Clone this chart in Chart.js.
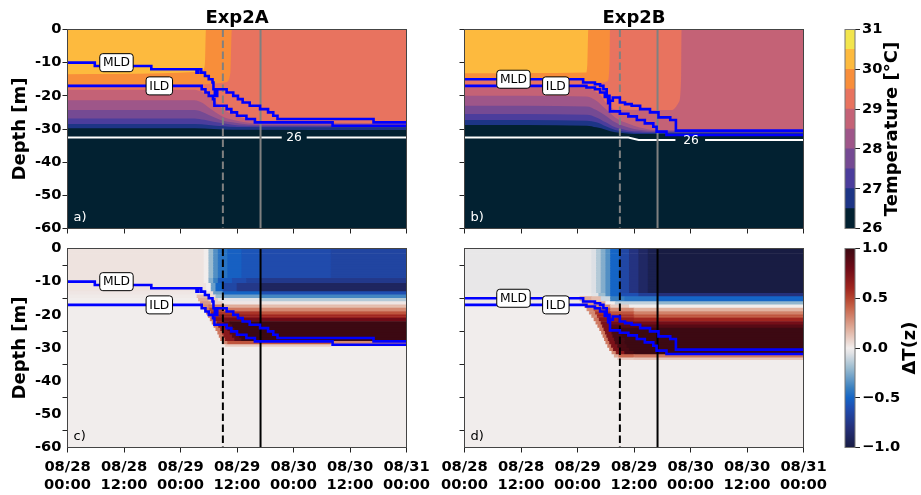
<!DOCTYPE html>
<html>
<head>
<meta charset="utf-8">
<title>Exp2A / Exp2B</title>
<script src="https://cdn.jsdelivr.net/npm/chart.js@4.4.1/dist/chart.umd.min.js"></script>
<style>
  html, body { margin: 0; background: #fff; }
  #page { position: relative; width: 921px; height: 495px; overflow: hidden; }
  #page canvas { position: absolute; left: 0; top: 0; }
</style>
</head>
<body>
<div id="page">
  <canvas id="panelA" width="921" height="495"></canvas>
  <canvas id="panelB" width="921" height="495"></canvas>
  <canvas id="panelC" width="921" height="495"></canvas>
  <canvas id="panelD" width="921" height="495"></canvas>
  <canvas id="barTemp" width="921" height="495"></canvas>
  <canvas id="barDelta" width="921" height="495"></canvas>
</div>
<script>
// time axis: hours since 08/28 00:00
const tickHours = [0, 12, 24, 36, 48, 60, 72];
const tickDates = ['08/28', '08/28', '08/29', '08/29', '08/30', '08/30', '08/31'];
const tickClock = ['00:00', '12:00', '00:00', '12:00', '00:00', '12:00', '00:00'];

// storm markers (hours)
const dashHour = 33;
const solidHour = 41;

// temperature contour levels
const tempLevels = [26, 26.5, 27, 27.5, 28, 28.5, 29, 29.5, 30, 30.5, 31];
const tempColors = ['#022131', '#1d3586', '#4b3d9c', '#754a93', '#9e5689',
                    '#c46276', '#e8735f', '#f88e3a', '#fdba3e', '#f2e54d'];
const deltaRange = [-1, 1];

// Exp2A isotherm depths, [hour, depth m]
const a265 = [[0, 29.8], [27, 29.8], [31, 30], [35, 30.2], [72, 30.3]];
const a270 = [[0, 28.5], [27, 28.5], [30, 28.8], [33, 29.2], [36, 29.4], [72, 29.5]];
const a275 = [[0, 26.8], [27, 26.8], [29, 27.2], [31, 27.8], [33, 28.3], [35, 28.7], [38, 29], [72, 29.1]];
const a280 = [[0, 24.3], [27, 24.3], [28.5, 24.8], [30, 25.8], [31.5, 26.7], [33, 27.5], [35, 28], [37, 28.4], [40, 28.7], [72, 28.8]];
const a285 = [[0, 21.3], [27, 21.3], [28.5, 22], [30, 23.5], [31.5, 25], [33, 26.3], [35, 27.2], [37, 27.8], [40, 28.3], [72, 28.4]];
const a290 = [[0, 18.2], [27, 18.2], [28.5, 18.8], [30, 19.8], [31, 21], [32, 22.5], [33, 24], [35, 25.5], [37, 26.5], [40, 27.5], [43, 28], [72, 28.2]];
const a295 = [[0, 16.6], [27, 16.6], [29, 16.5], [32, 16.2], [33.8, 15.8], [34.6, 13], [34.9, 0], [72, 0]];
const a300 = [[0, 13.5], [20, 13.2], [27, 12.8], [28.8, 12.2], [29.2, 10], [29.4, 0], [72, 0]];
const a260 = [[0, 32.6], [45.5, 32.6], [48, null], [50.8, 32.6], [72, 32.6]];

// Exp2B isotherm depths
const b265 = [[0, 28.8], [26, 29], [28, 29.5], [30, 30.2], [32, 31], [34, 31.3], [36, 31.5], [72, 31.5]];
const b270 = [[0, 27.3], [26, 27.5], [28, 28], [30, 29.2], [32, 30.3], [34, 30.8], [36, 31.1], [40, 31.2], [72, 31.2]];
const b275 = [[0, 25.5], [26, 25.7], [28, 26.5], [30, 28], [32, 29.5], [34, 30.2], [36, 30.7], [40, 30.9], [72, 30.9]];
const b280 = [[0, 23], [26, 23.2], [28, 24.3], [30, 26], [32, 28], [34, 29.2], [36, 30], [38, 30.4], [40, 30.6], [72, 30.6]];
const b285 = [[0, 20], [26, 20.2], [28, 21.5], [30, 24], [32, 26.5], [34, 28], [36, 29], [38, 29.8], [40, 30.3], [72, 30.3]];
const b290 = [[0, 17.2], [26, 17.5], [27.5, 18.5], [29, 20], [30, 22], [31, 23.5], [33, 24.2], [44, 24.3], [45.5, 22], [46, 15], [46.1, 0], [72, 0]];
const b295 = [[0, 15.3], [26, 15.5], [29, 16], [30.4, 15.5], [30.8, 10], [30.9, 0], [72, 0]];
const b300 = [[0, 13.2], [25.8, 13], [26.1, 10], [26.3, 0], [72, 0]];
const b260 = [[0, 32.6], [34.8, 32.6], [37, 33.3], [44.8, 33.3], [48, null], [51.1, 33.3], [72, 33.3]];

// mixed layer and isothermal layer depths (step from each hour on)
const mldA = [[0, 10], [5.8, 11], [17.8, 12], [27.4, 13], [27.8, 12], [28.4, 13], [29.2, 14], [30, 15], [30.8, 16], [31, 18], [31.3, 20], [31.8, 18], [33.8, 19], [35.2, 20], [36.2, 21], [37.2, 22], [38.7, 23], [40.9, 24], [42.6, 25], [43.7, 26], [44.6, 27], [65, 28], [72, 28]];
const ildA = [[0, 17], [28.5, 18], [29.3, 19], [30, 20], [30.9, 21], [31.2, 23], [33.8, 24], [34.8, 25], [36, 26], [38, 27], [39.8, 28], [56.3, 29], [72, 29]];
const mldB = [[0, 15], [25.2, 16], [27.7, 16.5], [28.8, 17], [29.5, 18], [30.2, 20], [30.8, 21.5], [31.5, 20.5], [33, 22], [34.1, 22.5], [35.5, 23], [37.3, 24], [39.4, 25], [41.2, 26.5], [43.7, 27.3], [44.9, 30.5], [72, 30.5]];
const ildB = [[0, 17], [25.9, 17.5], [27.7, 18], [28.8, 19], [29.8, 20.3], [30.5, 22.2], [30.9, 24.7], [33, 25.4], [34.8, 26.2], [36.6, 27.3], [38.3, 28.3], [40.1, 29.3], [40.8, 30.8], [42.9, 31.8], [72, 31.8]];

// tag anchors [hour, depth]
const mldTagA = [10.4, 10];
const ildTagA = [19.5, 17];
const mldTagB = [10.4, 15];
const ildTagB = [19.4, 17];
const isoTagA = [48.1, 32.6];
const isoTagB = [48.1, 33.3];

// ΔT(z) layers: [top m, bottom m, [[from hour, value], ...]]
const deltaC = [
  [0, 9, [[0, 0.03], [29, 0], [30, -0.2], [31, -0.35], [32, -0.45], [34, -0.52], [37, -0.57], [41, -0.62], [56, -0.66]]],
  [9, 10.5, [[0, 0.03], [29, 0], [30, -0.25], [31, -0.4], [32, -0.55], [35, -0.62], [38, -0.68], [41, -0.74]]],
  [10.5, 13, [[0, 0.03], [29.5, 0], [30.5, -0.3], [31.5, -0.5], [33, -0.65], [36, -0.75], [41, -0.9]]],
  [13, 14, [[0, 0.02], [29.5, 0.05], [31, -0.3], [33, -0.5], [41, -0.6]]],
  [14, 15, [[0, 0.01], [27.5, 0.15], [30, 0.05], [31.5, -0.2], [33, -0.3], [41, -0.38]]],
  [15, 16, [[0, 0], [27.8, 0.2], [30, 0.1], [32, -0.05], [41, -0.15]]],
  [16, 17, [[0, 0], [28.2, 0.25], [30.5, 0.1], [33, 0.02]]],
  [17, 18, [[0, 0], [28.7, 0.3], [30, 0.35], [33, 0.2], [41, 0.15]]],
  [18, 19, [[0, 0], [29.1, 0.35], [30.2, 0.5], [33, 0.35], [41, 0.3]]],
  [19, 20, [[0, 0], [29.5, 0.35], [30.5, 0.6], [32, 0.55], [41, 0.45]]],
  [20, 21, [[0, 0], [29.9, 0.35], [30.9, 0.65], [32.5, 0.65], [41, 0.6]]],
  [21, 22, [[0, 0], [30.3, 0.35], [31.3, 0.7], [33, 0.8]]],
  [22, 23, [[0, 0], [30.7, 0.35], [31.7, 0.7], [33, 0.9], [34.5, 1]]],
  [23, 24, [[0, 0], [31.1, 0.35], [32.1, 0.7], [33.5, 0.9], [35, 1]]],
  [24, 25, [[0, 0], [31.5, 0.35], [32.5, 0.7], [34, 0.9], [35.5, 1]]],
  [25, 26, [[0, 0], [31.9, 0.35], [32.9, 0.7], [34.5, 0.9], [36, 1]]],
  [26, 27, [[0, 0], [32.2, 0.35], [33.2, 0.7], [35, 0.9], [36.5, 1]]],
  [27, 28, [[0, 0], [32.5, 0.35], [33.5, 0.7], [35.5, 0.9], [37, 1]]],
  [28, 29, [[0, 0], [32.9, 0.3], [34, 0.45], [56, 0.3]]],
  [29, 29.5, [[0, 0], [33.5, 0.1], [56, 0.03]]]
];
const deltaD = [
  [0, 13.5, [[0, -0.03], [27, -0.06], [28, -0.15], [29, -0.25], [30, -0.35], [31, -0.5], [33, -0.65], [35, -0.78], [37, -0.88], [39, -0.95], [41, -1]]],
  [13.5, 14.5, [[0, -0.02], [27, -0.05], [28.5, -0.2], [30, -0.35], [31, -0.5], [33, -0.6], [37, -0.7], [41, -0.8]]],
  [14.5, 16, [[0, 0.02], [24.5, 0.2], [27, 0.15], [29, -0.1], [31, -0.4], [34, -0.45], [41, -0.5]]],
  [16, 17, [[0, 0.01], [25, 0.25], [28, 0.2], [30, 0], [32, -0.12], [41, -0.22]]],
  [17, 18, [[0, 0], [25.5, 0.3], [28.5, 0.3], [31, 0.1], [35, 0]]],
  [18, 19, [[0, 0], [26, 0.3], [27.5, 0.45], [31, 0.3], [36, 0.18]]],
  [19, 20, [[0, 0], [26.5, 0.3], [27.8, 0.55], [31, 0.45], [36, 0.32]]],
  [20, 21, [[0, 0], [27, 0.3], [28.2, 0.6], [31, 0.55], [36, 0.45]]],
  [21, 22, [[0, 0], [27.5, 0.35], [28.6, 0.7], [31, 0.65], [36, 0.6]]],
  [22, 23, [[0, 0], [27.9, 0.35], [29, 0.75], [31, 0.78]]],
  [23, 24, [[0, 0], [28.3, 0.35], [29.3, 0.75], [31, 0.9]]],
  [24, 25, [[0, 0], [28.7, 0.35], [29.6, 0.75], [31, 0.95], [33, 1]]],
  [25, 26, [[0, 0], [29.1, 0.35], [29.9, 0.75], [31.3, 0.95], [33, 1]]],
  [26, 27, [[0, 0], [29.4, 0.35], [30.2, 0.75], [31.5, 0.95], [33.5, 1]]],
  [27, 28, [[0, 0], [29.7, 0.35], [30.5, 0.75], [31.8, 0.95], [34, 1]]],
  [28, 29, [[0, 0], [30, 0.35], [30.8, 0.75], [32, 0.95], [34, 1]]],
  [29, 30, [[0, 0], [30.4, 0.35], [31.2, 0.75], [32.5, 0.95], [34.5, 1]]],
  [30, 31, [[0, 0], [30.8, 0.35], [31.6, 0.75], [33, 0.95], [35, 1]]],
  [31, 32, [[0, 0], [31.3, 0.3], [32.2, 0.7], [34, 0.95], [36, 1]]],
  [32, 33, [[0, 0], [31.8, 0.2], [32.8, 0.4], [36, 0.35]]],
  [33, 33.5, [[0, 0], [32.5, 0.1], [36, 0.12]]]
];

// ---------------- drawing ----------------
const FONT = "'DejaVu Sans', sans-serif";
const W = 921, H = 495;
const rowStep = 0.5;
const frameA = { left: 67.5, right: 406.5, top: 29.5, bottom: 228.5 };
const frameB = { left: 464.5, right: 803.5, top: 29.5, bottom: 228.5 };
const frameC = { left: 67.5, right: 406.5, top: 248.5, bottom: 447.5 };
const frameD = { left: 464.5, right: 803.5, top: 248.5, bottom: 447.5 };
const frameTempBar = { left: 845, right: 855, top: 29.5, bottom: 228.5 };
const frameDeltaBar = { left: 845, right: 855, top: 248.5, bottom: 447.5 };

const balanceStops = [
  [-1, '#181c43'], [-0.8, '#25307a'], [-0.6, '#1f4eb2'], [-0.5, '#1565c6'], [-0.4, '#3a80c0'],
  [-0.2, '#9bbcd0'], [-0.05, '#e2e3e6'], [0, '#f1edec'], [0.2, '#dfab98'], [0.4, '#c8664c'],
  [0.5, '#b5442f'], [0.6, '#a0251f'], [0.8, '#6f0b17'], [1, '#3c0912']
];
const hexToRgb = (h) => [1, 3, 5].map((i) => parseInt(h.slice(i, i + 2), 16));
const balance = (value) => {
  const v = Math.max(-1, Math.min(1, value));
  for (let i = 1; i < balanceStops.length; i += 1) {
    const [v0, c0] = balanceStops[i - 1];
    const [v1, c1] = balanceStops[i];
    if (v <= v1) {
      const f = (v - v0) / (v1 - v0);
      const a = hexToRgb(c0);
      const b = hexToRgb(c1);
      return `rgb(${a.map((x, k) => Math.round(x + (b[k] - x) * f)).join(',')})`;
    }
  }
  return balanceStops[balanceStops.length - 1][1];
};

const pts = (arr) => arr.map(([t, d]) => ({ x: t, y: d === null ? null : -d }));

const areaSet = (arr, color, order) => ({
  type: 'line', data: pts(arr), fill: 'end', backgroundColor: color,
  borderWidth: 0, pointRadius: 0, cubicInterpolationMode: 'monotone', order
});
const lineSet = (arr, color, width, order, extra) => Object.assign({
  type: 'line', data: pts(arr), fill: false, borderColor: color, borderWidth: width,
  pointRadius: 0, order
}, extra || {});

const seabed = [[0, 60], [72, 60]];

const fieldSets = (isos, iso26) => [
  areaSet(seabed, tempColors[0], 50),
  ...isos.map((arr, i) => areaSet(arr, tempColors[i + 1], 40 - i)),
  lineSet(iso26, '#ffffff', 2, 10, { spanGaps: false })
];

const cellsFrom = (layers) => {
  const cells = [];
  layers.forEach(([top, bottom, steps]) => {
    const rows = Math.round((bottom - top) / rowStep);
    for (let r = 0; r < rows; r += 1) {
      const centre = top + (r + 0.5) * rowStep;
      steps.forEach(([t, v], i) => {
        const tEnd = i + 1 < steps.length ? steps[i + 1][0] : 72;
        cells.push({ y: -centre, x: [t, tEnd], v });
      });
    }
  });
  return cells;
};

const deltaSets = (layers) => [
  areaSet(seabed, balance(0), 50),
  {
    type: 'bar', indexAxis: 'y', grouped: false, order: 30,
    data: cellsFrom(layers),
    backgroundColor: (c) => (c.raw ? balance(c.raw.v) : 'rgba(0,0,0,0)'),
    borderWidth: 0, barPercentage: 1, categoryPercentage: 1
  }
];

const markerSets = (color) => [
  lineSet([[dashHour, 0], [dashHour, 60]], color, 2, 6, { borderDash: [7.5, 3.5] }),
  lineSet([[solidHour, 0], [solidHour, 60]], color, 2, 6)
];
const layerSets = (mld, ild) => [
  lineSet(mld, '#0000ff', 2.6, 4, { stepped: true }),
  lineSet(ild, '#0000ff', 2.6, 4, { stepped: true })
];

const tickFont = { family: FONT, size: 14.7, weight: 'bold' };

const timeAxis = (labels, h) => ({
  type: 'linear', min: 0, max: 72, offset: false,
  ticks: {
    stepSize: 12, display: labels, autoSkip: false, maxRotation: 0, padding: 6,
    color: '#000', font: tickFont,
    callback: (v) => {
      const i = tickHours.indexOf(v);
      return i < 0 ? '' : [tickDates[i], tickClock[i]];
    }
  },
  grid: { display: true, drawOnChartArea: false, drawTicks: true, tickLength: 5, tickColor: '#222' },
  border: { display: false },
  afterFit: (s) => { s.height = h; }
});

const depthAxis = (labels, w) => ({
  type: 'linear', min: -60, max: 0, offset: false,
  ticks: { stepSize: 10, display: labels, padding: 1, color: '#000', font: tickFont },
  grid: { display: true, drawOnChartArea: false, drawTicks: true, tickLength: 5, tickColor: '#222' },
  border: { display: false },
  title: {
    display: labels, text: 'Depth [m]', color: '#000',
    font: { family: FONT, size: 18, weight: 'bold' }, padding: { top: 9.2, bottom: 0 }
  },
  afterFit: (s) => { s.width = w; }
});

const titleAxis = (text, h) => ({
  type: 'linear', position: 'top', min: 0, max: 72,
  ticks: { display: false },
  grid: { display: false, drawTicks: false },
  border: { display: false },
  title: {
    display: true, text, color: '#000',
    font: { family: FONT, size: 18, weight: 'bold' }, padding: { top: 7.2, bottom: 0 }
  },
  afterFit: (s) => { s.height = h; }
});

const framePlugin = (color) => ({
  id: 'frame',
  afterDraw(chart) {
    const { ctx, chartArea: a } = chart;
    ctx.save();
    ctx.strokeStyle = color;
    ctx.lineWidth = 1;
    ctx.strokeRect(a.left, a.top, a.right - a.left, a.bottom - a.top);
    ctx.restore();
  }
});

const boxPath = (ctx, x, y, w, h, r) => {
  ctx.beginPath();
  ctx.moveTo(x + r, y);
  ctx.lineTo(x + w - r, y);
  ctx.quadraticCurveTo(x + w, y, x + w, y + r);
  ctx.lineTo(x + w, y + h - r);
  ctx.quadraticCurveTo(x + w, y + h, x + w - r, y + h);
  ctx.lineTo(x + r, y + h);
  ctx.quadraticCurveTo(x, y + h, x, y + h - r);
  ctx.lineTo(x, y + r);
  ctx.quadraticCurveTo(x, y, x + r, y);
  ctx.closePath();
};

const tagPlugin = (tags, letter, letterColor) => ({
  id: 'tags',
  afterDatasetsDraw(chart) {
    const { ctx, chartArea, scales: { x, y } } = chart;
    ctx.save();
    ctx.font = `12.3px ${FONT}`;
    ctx.textAlign = 'center';
    ctx.textBaseline = 'middle';
    tags.forEach(({ at, text, boxed, color }) => {
      const px = x.getPixelForValue(at[0]);
      const py = y.getPixelForValue(-at[1]);
      if (boxed) {
        const w = ctx.measureText(text).width + 6.5;
        boxPath(ctx, px - w / 2, py - 9, w, 18, 3);
        ctx.fillStyle = '#fff';
        ctx.fill();
        ctx.lineWidth = 1;
        ctx.strokeStyle = '#000';
        ctx.stroke();
      }
      ctx.fillStyle = color;
      ctx.fillText(text, px, py + 0.5);
    });
    ctx.font = `13px ${FONT}`;
    ctx.textAlign = 'left';
    ctx.textBaseline = 'alphabetic';
    ctx.fillStyle = letterColor;
    ctx.fillText(letter, chartArea.left + 6, chartArea.bottom - 8);
    ctx.restore();
  }
});

const sideTitlePlugin = (text, offset) => ({
  id: 'sideTitle',
  afterDraw(chart) {
    const { ctx, chartArea: a } = chart;
    ctx.save();
    ctx.translate(a.right + offset, (a.top + a.bottom) / 2);
    ctx.rotate(-Math.PI / 2);
    ctx.font = `bold 18px ${FONT}`;
    ctx.fillStyle = '#000';
    ctx.textAlign = 'center';
    ctx.textBaseline = 'middle';
    ctx.fillText(text, 0, 0);
    ctx.restore();
  }
});

const baseOptions = () => ({
  responsive: false, animation: false, devicePixelRatio: 1, events: [],
  plugins: { legend: { display: false }, tooltip: { enabled: false } }
});

function drawPanel(id, frame, cfg) {
  const yW = cfg.depthLabels ? 67.5 : 10;
  const xH = cfg.timeLabels ? 45 : 8;
  const topH = cfg.title ? frame.top : 0;
  const scales = { x: timeAxis(cfg.timeLabels, xH), y: depthAxis(cfg.depthLabels, yW) };
  if (cfg.title) scales.xTitle = titleAxis(cfg.title, topH);
  const options = baseOptions();
  options.layout = {
    padding: { left: frame.left - yW, right: W - frame.right, top: frame.top - topH, bottom: H - frame.bottom - xH }
  };
  options.scales = scales;
  return new Chart(document.getElementById(id), {
    type: 'line',
    data: { datasets: cfg.datasets },
    options,
    plugins: [tagPlugin(cfg.tags, cfg.letter, cfg.letterColor), framePlugin('#444')]
  });
}

function drawColorbar(id, frame, cfg) {
  const axW = 60;
  const options = baseOptions();
  options.layout = {
    padding: { left: frame.left, right: W - frame.right - axW, top: frame.top, bottom: H - frame.bottom }
  };
  options.scales = {
    x: { display: false },
    y: {
      position: 'right', min: cfg.min, max: cfg.max,
      ticks: { stepSize: cfg.step, padding: 2, color: '#000', font: tickFont, callback: cfg.format },
      grid: { drawOnChartArea: false, tickLength: 5, tickColor: '#222' },
      border: { display: false },
      afterFit: (s) => { s.width = axW; }
    }
  };
  return new Chart(document.getElementById(id), {
    type: 'bar',
    data: { labels: ['scale'], datasets: cfg.datasets },
    options,
    plugins: [framePlugin('#777'), sideTitlePlugin(cfg.title, cfg.titleOffset)]
  });
}

const tagsFor = (mldTag, ildTag, isoTag) => {
  const tags = [
    { at: mldTag, text: 'MLD', boxed: true, color: '#000' },
    { at: ildTag, text: 'ILD', boxed: true, color: '#000' }
  ];
  if (isoTag) tags.push({ at: isoTag, text: '26', boxed: false, color: '#fff' });
  return tags;
};

drawPanel('panelA', frameA, {
  title: 'Exp2A', depthLabels: true, timeLabels: false, letter: 'a)', letterColor: '#fff',
  tags: tagsFor(mldTagA, ildTagA, isoTagA),
  datasets: [...fieldSets([a265, a270, a275, a280, a285, a290, a295, a300], a260),
             ...markerSets('#808080'), ...layerSets(mldA, ildA)]
});

drawPanel('panelB', frameB, {
  title: 'Exp2B', depthLabels: false, timeLabels: false, letter: 'b)', letterColor: '#fff',
  tags: tagsFor(mldTagB, ildTagB, isoTagB),
  datasets: [...fieldSets([b265, b270, b275, b280, b285, b290, b295, b300], b260),
             ...markerSets('#808080'), ...layerSets(mldB, ildB)]
});

drawPanel('panelC', frameC, {
  title: null, depthLabels: true, timeLabels: true, letter: 'c)', letterColor: '#000',
  tags: tagsFor(mldTagA, ildTagA, null),
  datasets: [...deltaSets(deltaC), ...markerSets('#000000'), ...layerSets(mldA, ildA)]
});

drawPanel('panelD', frameD, {
  title: null, depthLabels: false, timeLabels: true, letter: 'd)', letterColor: '#000',
  tags: tagsFor(mldTagB, ildTagB, null),
  datasets: [...deltaSets(deltaD), ...markerSets('#000000'), ...layerSets(mldB, ildB)]
});

drawColorbar('barTemp', frameTempBar, {
  min: tempLevels[0], max: tempLevels[tempLevels.length - 1], step: 1,
  format: (v) => String(v), title: 'Temperature [°C]', titleOffset: 37.5,
  datasets: tempColors.map((c, i) => ({
    data: [[tempLevels[i], tempLevels[i + 1]]], backgroundColor: c, grouped: false,
    barPercentage: 1, categoryPercentage: 1, borderWidth: 0
  }))
});

drawColorbar('barDelta', frameDeltaBar, {
  min: deltaRange[0], max: deltaRange[1], step: 0.5,
  format: (v) => (v < 0 ? '\u2212' : '') + Math.abs(v).toFixed(1), title: 'ΔT(z)', titleOffset: 55,
  datasets: [{
    data: [deltaRange], grouped: false, barPercentage: 1, categoryPercentage: 1, borderWidth: 0,
    backgroundColor: (c) => {
      const area = c.chart.chartArea;
      if (!area) return '#f1edec';
      const g = c.chart.ctx.createLinearGradient(0, area.bottom, 0, area.top);
      balanceStops.forEach(([v, col]) => g.addColorStop((v + 1) / 2, col));
      return g;
    }
  }]
});
</script>
</body>
</html>
